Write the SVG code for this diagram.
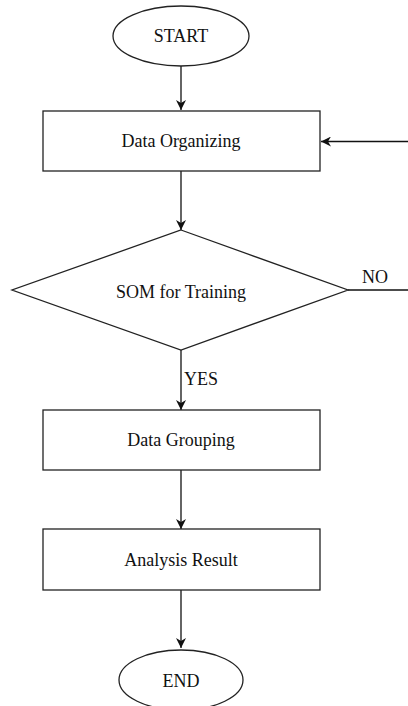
<svg xmlns="http://www.w3.org/2000/svg" width="408" height="706" viewBox="0 0 408 706">
<style>
.shape{fill:#fff;stroke:#222;stroke-width:1.3}
.lbl{font-family:"Liberation Serif","Times New Roman",serif;font-size:18px;fill:#111;text-anchor:middle}
.edge{fill:none;stroke:#111;stroke-width:1.3}
</style>
<defs>
<marker id="ah" viewBox="0 0 10 10" refX="10" refY="5" markerWidth="10" markerHeight="10" markerUnits="userSpaceOnUse" orient="auto">
<path d="M0,0 L10,5 L0,10 L3,5 Z" fill="#111"/>
</marker>
</defs>
<rect width="408" height="706" fill="#fff"/>
<g id="connectors">
<line class="edge" x1="181" y1="66" x2="181" y2="110" marker-end="url(#ah)"/>
<line class="edge" x1="181" y1="171" x2="181" y2="230" marker-end="url(#ah)"/>
<line class="edge" x1="181" y1="350" x2="181" y2="410" marker-end="url(#ah)"/>
<line class="edge" x1="181" y1="470" x2="181" y2="529" marker-end="url(#ah)"/>
<line class="edge" x1="181" y1="590" x2="181" y2="648" marker-end="url(#ah)"/>
<line class="edge" x1="348" y1="290" x2="408" y2="290"/>
<line class="edge" x1="408" y1="141.5" x2="321" y2="141.5" marker-end="url(#ah)"/>
<text class="lbl" x="201" y="385">YES</text>
<text class="lbl" x="375" y="283">NO</text>
</g>
<g id="start">
<ellipse class="shape" cx="181" cy="36" rx="68" ry="30"/>
<text class="lbl" x="181" y="42">START</text>
</g>
<g id="organize">
<rect class="shape" x="43" y="111" width="277" height="60"/>
<text class="lbl" x="181" y="147">Data Organizing</text>
</g>
<g id="som">
<polygon class="shape" points="181,230 348,290 181,350 12,290"/>
<text class="lbl" x="181" y="298">SOM for Training</text>
</g>
<g id="grouping">
<rect class="shape" x="43" y="410" width="277" height="60"/>
<text class="lbl" x="181" y="446">Data Grouping</text>
</g>
<g id="analysis">
<rect class="shape" x="43" y="529" width="277" height="61"/>
<text class="lbl" x="181" y="566">Analysis Result</text>
</g>
<g id="end">
<ellipse class="shape" cx="181" cy="680" rx="62" ry="30"/>
<text class="lbl" x="181" y="687">END</text>
</g>
</svg>
